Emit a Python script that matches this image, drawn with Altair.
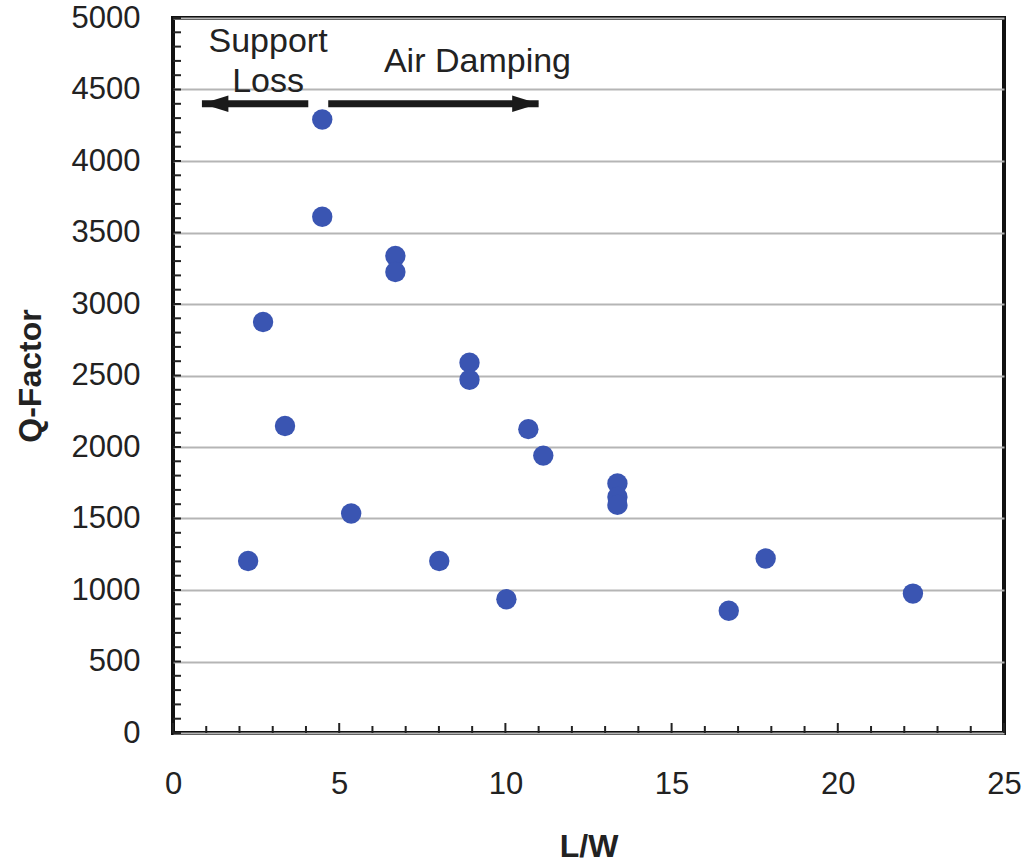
import altair as alt
import pandas as pd

# Data
lw = [2.26, 2.71, 3.37, 4.49, 4.49, 5.36, 6.69, 6.69, 8.01, 8.92, 8.92,
      10.03, 10.69, 11.14, 13.37, 13.37, 13.37, 16.72, 17.83, 22.26]
q = [1203, 2874, 2147, 4290, 3610, 1535, 3336, 3224, 1203, 2590, 2470,
     935, 2125, 1940, 1745, 1650, 1595, 855, 1220, 975]

x_ticks = list(range(0, 26))
y_ticks = list(range(0, 5001, 100))

labels_text = ["Support", "Loss", "Air Damping"]
labels_x = [2.86, 2.86, 9.16]
labels_y = [4762, 4483, 4622]

arrow_x1 = [0.87, 4.67]
arrow_x2 = [4.07, 11.0]
arrow_y = [4400, 4400]
head_x = [0.87, 11.0]
head_dir = ["left", "right"]

W, H = 831, 715
FONT = "Liberation Sans"

xs = alt.Scale(domain=[0, 25], nice=False, zero=False)
ys = alt.Scale(domain=[0, 5000], nice=False, zero=False)

pts = pd.DataFrame({"lw": lw, "q": q})

base_axes = alt.Chart(pts).mark_point(opacity=0).encode(
    x=alt.X("lw:Q", scale=xs, title="L/W",
            axis=alt.Axis(values=[0, 5, 10, 15, 20, 25], grid=False, ticks=False,
                          domain=False, format="d", labelFlush=False,
                          labelFontSize=31, labelFont=FONT,
                          labelColor="#222", labelPadding=36,
                          titleFontSize=32, titleFont=FONT, titleFontWeight="bold",
                          titleColor="#222", titlePadding=32)),
    y=alt.Y("q:Q", scale=ys, title="Q-Factor",
            axis=alt.Axis(values=list(range(0, 5001, 500)), grid=True, format="d",
                          labelFlush=False,
                          gridColor="#b5b5b5", gridWidth=2, ticks=False, domain=False,
                          labelFontSize=31, labelFont=FONT, labelColor="#222",
                          labelPadding=33, titleFontSize=32, titleFont=FONT,
                          titleFontWeight="bold", titleColor="#222", titlePadding=24)),
)

xt = pd.DataFrame({"t": x_ticks, "major": [t % 5 == 0 for t in x_ticks]})
xtick_minor = alt.Chart(xt[~xt["major"]]).mark_rule(color="#222", strokeWidth=2).encode(
    x=alt.X("t:Q", scale=xs), y=alt.value(H), y2=alt.value(H - 7))
xtick_major = alt.Chart(xt[xt["major"]]).mark_rule(color="#222", strokeWidth=2).encode(
    x=alt.X("t:Q", scale=xs), y=alt.value(H), y2=alt.value(H - 10))

yt = pd.DataFrame({"t": y_ticks})
ytick = alt.Chart(yt).mark_rule(color="#222", strokeWidth=2).encode(
    y=alt.Y("t:Q", scale=ys), x=alt.value(0), x2=alt.value(8))

points = alt.Chart(pts).mark_circle(size=415, color="#3a55b2", opacity=1).encode(
    x=alt.X("lw:Q", scale=xs), y=alt.Y("q:Q", scale=ys))

arr = pd.DataFrame({"x1": arrow_x1, "x2": arrow_x2, "y": arrow_y})
arrow_lines = alt.Chart(arr).mark_rule(color="#1a1a1a", strokeWidth=7).encode(
    x=alt.X("x1:Q", scale=xs), x2="x2:Q", y=alt.Y("y:Q", scale=ys))

heads = pd.DataFrame({"x": head_x, "y": arrow_y, "d": head_dir})
head_l = alt.Chart(heads[heads["d"] == "left"]).mark_point(
    shape="M0,0L2,-0.62L2,0.62Z", size=700, filled=True, color="#1a1a1a", opacity=1
).encode(x=alt.X("x:Q", scale=xs), y=alt.Y("y:Q", scale=ys))
head_r = alt.Chart(heads[heads["d"] == "right"]).mark_point(
    shape="M0,0L-2,-0.62L-2,0.62Z", size=700, filled=True, color="#1a1a1a", opacity=1
).encode(x=alt.X("x:Q", scale=xs), y=alt.Y("y:Q", scale=ys))

txt = pd.DataFrame({"t": labels_text, "x": labels_x, "y": labels_y})
texts = alt.Chart(txt).mark_text(font=FONT, fontSize=34, color="#222",
                                 align="center", baseline="alphabetic").encode(
    x=alt.X("x:Q", scale=xs), y=alt.Y("y:Q", scale=ys), text="t:N")

chart = alt.layer(base_axes, xtick_minor, xtick_major, ytick, arrow_lines,
                  head_l, head_r, texts, points).properties(
    width=W, height=H,
    autosize=alt.AutoSizeParams(type="none"),
    padding={"left": 173, "top": 18, "right": 24, "bottom": 134},
    background="white",
).configure_view(stroke="#111", strokeWidth=4)

chart.save("out.html", embed_options={"renderer": "svg", "actions": False})
